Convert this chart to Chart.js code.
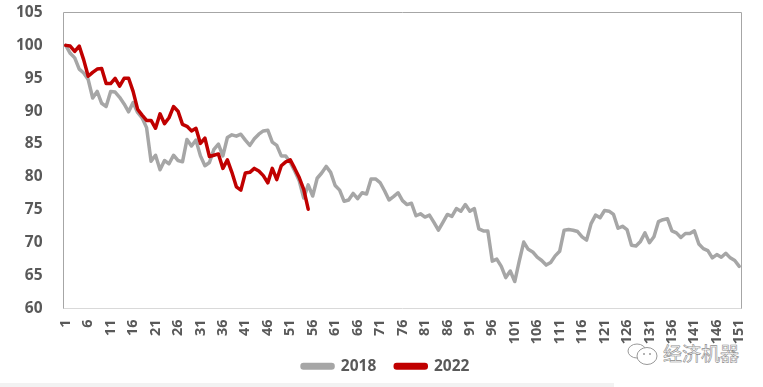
<!DOCTYPE html>
<html><head><meta charset="utf-8">
<style>
html,body{margin:0;padding:0;background:#fff;width:763px;height:387px;overflow:hidden}
#wrap{position:relative;width:763px;height:387px}
#c{position:relative;z-index:2}
#band{position:absolute;left:0;top:383px;width:614px;height:4px;background:#f2f2f2}
#mark{position:absolute;left:663px;top:343px;font:19px "Noto Sans CJK SC";color:#fff;line-height:20px;-webkit-text-stroke:.6px #8c8c8c;white-space:nowrap;z-index:1}
#icon{position:absolute;left:624px;top:342px;z-index:1}
</style>
<script src="https://cdn.jsdelivr.net/npm/chart.js@4"></script>
</head><body><div id="wrap">
<canvas id="c" width="763" height="387"></canvas>
<div id="band"></div>
<svg id="icon" width="36" height="24" viewBox="0 0 36 24"><g fill="#fff" stroke="#9a9a9a" stroke-width="1"><ellipse cx="13" cy="9" rx="9" ry="7"/><ellipse cx="23" cy="14" rx="10" ry="8.5"/><circle cx="20" cy="12" r="1" fill="#9a9a9a" stroke="none"/><circle cx="26" cy="12" r="1" fill="#9a9a9a" stroke="none"/></g></svg>
<div id="mark">经济机器</div>
</div>
<script>
const categories = Array.from({length:151},(_,i)=>String(i+1));
const yTicks = [60,65,70,75,80,85,90,95,100,105];
const series2018 = [
100,98.8,98.1,96.4,95.8,94.8,92,93,91.2,90.7,
93,92.9,92.1,91.1,89.9,91.3,89.8,89,87.5,82.4,
83.3,81.1,82.5,82,83.3,82.5,82.3,85.7,84.7,85.6,
83.2,81.7,82.2,84.2,85,83.2,86,86.4,86.2,86.5,
85.6,84.8,85.8,86.5,87,87.1,85.3,84.8,83.2,83.2,
82.2,80.9,79.4,76.8,78.8,77.1,79.8,80.6,81.6,80.7,
78.7,78,76.3,76.5,77.5,76.7,77.6,77.4,79.7,79.7,
79.15,77.9,76.5,77,77.6,76.4,75.8,76,74.1,74.4,
73.9,74.2,73.1,71.9,73.1,74.3,74,75.2,74.8,75.8,
74.8,75.2,72.1,71.8,71.8,67.2,67.5,66.4,64.7,65.7,
64.1,67.2,70.1,69,68.6,67.8,67.3,66.6,67,68,
68.7,71.9,72,71.9,71.7,70.9,70.4,72.9,74.2,73.8,
74.9,74.8,74.3,72.2,72.5,72,69.6,69.5,70.2,71.5,
70,70.9,73.2,73.5,73.65,71.8,71.5,70.8,71.4,71.4,
71.8,69.8,69.1,68.8,67.7,68.2,67.8,68.4,67.7,67.3,66.4];
const series2022 = [
100,99.9,99.1,99.9,97.8,95.3,95.9,96.4,96.5,94.2,
94.2,95,93.8,95,95,93,90.3,89.4,88.6,88.6,
87.4,89.6,88.1,89,90.7,90,88,87.7,87,87.4,
85.1,85.9,83.1,83.3,83.5,81.3,82.6,80.7,78.5,78,
80.6,80.7,81.3,80.9,80.2,79.1,81.3,79.6,81.7,82.3,
82.6,81.3,79.9,78.1,75.1];
const GREY='#a6a6a6', RED='#c00000', TXT='#595959';
const FONT={family:'"Open Sans"',weight:'bold',size:15.5};
const XFONT={family:'"Open Sans"',weight:'bold',size:14.5};
const frame={id:'frame',beforeDatasetsDraw(ch){const a=ch.chartArea,x=ch.ctx;x.save();x.strokeStyle='#a6a6a6';x.lineWidth=1;
 x.beginPath();x.moveTo(a.left,a.bottom);x.lineTo(a.left,a.top);x.lineTo(a.right,a.top);x.lineTo(a.right,a.bottom);x.stroke();x.restore();}};
const legendShift={id:'legendShift',afterUpdate(ch){const l=ch.legend;l.left+=15;l.right+=15;l.top-=10;l.bottom-=10;}};
function noPad(s){s.paddingTop=0;s.paddingBottom=0;s.paddingLeft=0;s.paddingRight=0;}
new Chart(document.getElementById('c'),{type:'line',
 data:{labels:categories,datasets:[
  {label:'2018',data:series2018,borderColor:GREY,backgroundColor:GREY,borderWidth:3.5,pointRadius:0,tension:0,order:2,borderJoinStyle:'round',borderCapStyle:'round'},
  {label:'2022',data:series2022,borderColor:RED,backgroundColor:RED,borderWidth:3.5,pointRadius:0,tension:0,order:1,borderJoinStyle:'round',borderCapStyle:'round'}]},
 options:{responsive:false,animation:false,
  layout:{padding:{left:0,right:21.5,top:12.5,bottom:-7}},
  plugins:{tooltip:{enabled:false},
   legend:{position:'bottom',labels:{color:TXT,font:FONT,boxWidth:31,boxHeight:3.5,padding:19,useBorderRadius:true,borderRadius:1.5,
     sort:(a,b)=>a.datasetIndex-b.datasetIndex}}},
  scales:{
   x:{offset:true,grid:{display:false,drawTicks:false},border:{display:true,color:'#d9d9d9'},
      afterFit(s){s.height=41;noPad(s);},
      ticks:{autoSkip:false,maxRotation:90,minRotation:90,padding:11,color:TXT,font:XFONT,
        callback(v,i){return i%5===0?categories[i]:'';}}},
   y:{min:60,max:105,grid:{display:false,drawTicks:false},border:{display:false},
      afterFit(s){s.width=63.5;noPad(s);},
      afterBuildTicks(s){s.ticks=yTicks.map(v=>({value:v}));},
      ticks:{padding:21,color:TXT,font:FONT}}
  }},
 plugins:[frame,legendShift]});
</script></body></html>
